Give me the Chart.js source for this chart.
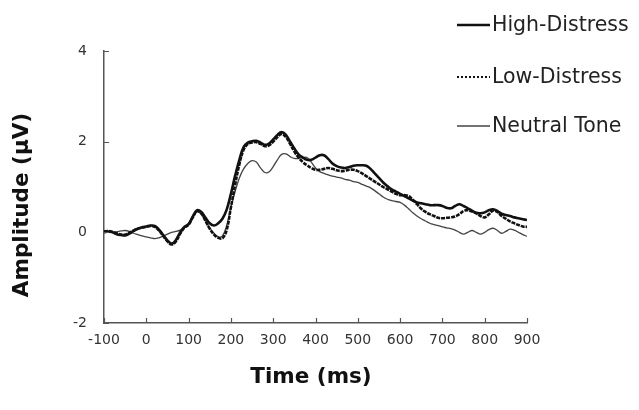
<!DOCTYPE html>
<html>
<head>
<meta charset="utf-8">
<script src="https://cdn.jsdelivr.net/npm/chart.js@4.4.1/dist/chart.umd.min.js"></script>
<style>
  html, body { margin: 0; padding: 0; background: #fff; }
  #wrap { width: 639px; height: 410px; }
</style>
</head>
<body>
<div id="wrap"><canvas id="grafico" width="639" height="410"></canvas></div>
<script>
// time points (ms)
const tempos = [
  -100, -90, -80, -70, -60, -50, -40, -30, -20, -10,
  0, 10, 20, 30, 40, 50, 60, 70, 80, 90,
  100, 110, 120, 130, 140, 150, 160, 170, 180, 190,
  200, 210, 220, 230, 240, 250, 260, 270, 280, 290,
  300, 310, 320, 330, 340, 350, 360, 370, 380, 390,
  400, 410, 420, 430, 440, 450, 460, 470, 480, 490,
  500, 510, 520, 530, 540, 550, 560, 570, 580, 590,
  600, 610, 620, 630, 640, 650, 660, 670, 680, 690,
  700, 710, 720, 730, 740, 750, 760, 770, 780, 790,
  800, 810, 820, 830, 840, 850, 860, 870, 880, 890,
  900
];

const highDistress = [
  0.00, 0.02, 0.00, -0.04, -0.06, -0.07, -0.03, 0.03, 0.08, 0.11,
  0.13, 0.15, 0.14, 0.06, -0.06, -0.18, -0.25, -0.17, 0.00, 0.12,
  0.18, 0.35, 0.49, 0.45, 0.32, 0.20, 0.15, 0.20, 0.30, 0.50,
  0.85, 1.25, 1.60, 1.88, 1.98, 2.01, 2.02, 1.98, 1.93, 1.96,
  2.05, 2.15, 2.21, 2.15, 2.00, 1.85, 1.72, 1.65, 1.60, 1.60,
  1.65, 1.70, 1.70, 1.62, 1.52, 1.46, 1.43, 1.42, 1.44, 1.47,
  1.48, 1.48, 1.47, 1.40, 1.30, 1.20, 1.10, 1.02, 0.95, 0.90,
  0.85, 0.80, 0.75, 0.70, 0.66, 0.64, 0.62, 0.60, 0.60, 0.60,
  0.58, 0.54, 0.53, 0.58, 0.62, 0.58, 0.53, 0.48, 0.43, 0.42,
  0.44, 0.49, 0.51, 0.47, 0.41, 0.38, 0.36, 0.33, 0.31, 0.29,
  0.27
];

const lowDistress = [
  0.02, 0.03, 0.01, -0.02, -0.05, -0.05, -0.01, 0.04, 0.08, 0.10,
  0.12, 0.14, 0.12, 0.04, -0.08, -0.20, -0.27, -0.20, -0.03, 0.10,
  0.17, 0.33, 0.47, 0.42, 0.25, 0.08, -0.05, -0.12, -0.13, 0.05,
  0.55, 1.05, 1.50, 1.82, 1.95, 1.98, 1.99, 1.95, 1.90, 1.92,
  2.00, 2.10, 2.17, 2.10, 1.95, 1.78, 1.65, 1.55, 1.48, 1.42,
  1.38, 1.38, 1.40, 1.42, 1.40, 1.37, 1.35, 1.36, 1.38, 1.38,
  1.35, 1.30, 1.24, 1.18, 1.12, 1.06, 1.00, 0.95, 0.90, 0.85,
  0.82, 0.82, 0.80, 0.72, 0.62, 0.52, 0.45, 0.40, 0.36, 0.32,
  0.31, 0.32, 0.33, 0.35, 0.40, 0.47, 0.49, 0.46, 0.42, 0.36,
  0.33, 0.40, 0.48, 0.45, 0.36, 0.30, 0.24, 0.20, 0.16, 0.13,
  0.12
];

const neutralTone = [
  0.00, 0.00, 0.00, 0.01, 0.03, 0.04, 0.02, -0.02, -0.05, -0.08,
  -0.10, -0.12, -0.14, -0.12, -0.08, -0.04, 0.00, 0.02, 0.05, 0.10,
  0.20, 0.35, 0.45, 0.40, 0.25, 0.10, -0.02, -0.10, -0.08, 0.15,
  0.55, 0.90, 1.20, 1.40, 1.52, 1.58, 1.55, 1.42, 1.32, 1.33,
  1.45, 1.60, 1.72, 1.73, 1.67, 1.63, 1.63, 1.65, 1.65, 1.55,
  1.42, 1.34, 1.30, 1.27, 1.24, 1.22, 1.20, 1.17, 1.15, 1.12,
  1.10, 1.06, 1.02, 0.98, 0.92, 0.85, 0.78, 0.73, 0.70, 0.68,
  0.66, 0.60, 0.52, 0.43, 0.36, 0.30, 0.25, 0.20, 0.17, 0.15,
  0.12, 0.10, 0.08, 0.05, 0.00, -0.04, 0.00, 0.04, 0.00, -0.04,
  0.00, 0.06, 0.09, 0.04, -0.02, 0.02, 0.07, 0.05, 0.00, -0.05,
  -0.09
];

const nomesSeries = ["High-Distress", "Low-Distress", "Neutral Tone"];
const ticksX = [-100, 0, 100, 200, 300, 400, 500, 600, 700, 800, 900];
const ticksY = [-2, 0, 2, 4];

const fonte = "'DejaVu Sans', Verdana, sans-serif";

function pontos(valores) {
  return tempos.map((t, i) => ({ x: t, y: valores[i] }));
}

/* short inward ticks, axis titles and legend */
const extras = {
  id: "extras",
  afterDraw(c) {
    const ctx = c.ctx;
    const x = c.scales.x;
    const y = c.scales.y;
    const area = c.chartArea;
    ctx.save();
    ctx.strokeStyle = "#555";
    ctx.lineWidth = 1.2;
    ctx.beginPath();
    ticksX.forEach(v => {
      const px = Math.round(x.getPixelForValue(v)) + 0.5;
      ctx.moveTo(px, area.bottom);
      ctx.lineTo(px, area.bottom - 5);
    });
    ticksY.forEach(v => {
      const py = Math.round(y.getPixelForValue(v)) + 0.5;
      ctx.moveTo(area.left, py);
      ctx.lineTo(area.left + 5, py);
    });
    ctx.stroke();

    // axis titles
    ctx.fillStyle = "#111";
    ctx.font = "bold 21.5px " + fonte;
    ctx.textAlign = "center";
    ctx.textBaseline = "middle";
    ctx.fillText("Time (ms)", 311, 377);
    ctx.save();
    ctx.translate(22, 205);
    ctx.rotate(-Math.PI / 2);
    ctx.fillText("Amplitude (\u00b5V)", 0, 0);
    ctx.restore();

    // legend
    const linhas = [25, 77, 126];
    ctx.font = "20.5px " + fonte;
    ctx.textAlign = "left";
    ctx.fillStyle = "#222";
    c.data.datasets.forEach((ds, i) => {
      const ly = linhas[i];
      ctx.save();
      ctx.strokeStyle = ds.borderColor;
      ctx.lineWidth = i === 0 ? 2.5 : (i === 1 ? 2 : 1.3);
      ctx.setLineDash(i === 1 ? [2, 2] : []);
      ctx.beginPath();
      ctx.moveTo(457, ly);
      ctx.lineTo(490, ly);
      ctx.stroke();
      ctx.restore();
      ctx.fillText(ds.label, 492, ly + 1);
    });
    ctx.restore();
  }
};

document.addEventListener("DOMContentLoaded", () => {
  const grafico = document.getElementById("grafico");

  new Chart(grafico, {
    type: "line",
    data: {
      datasets: [
        {
          label: nomesSeries[0],
          data: pontos(highDistress),
          borderColor: "#111",
          borderWidth: 2.6,
          pointRadius: 0,
          tension: 0.4
        },
        {
          label: nomesSeries[1],
          data: pontos(lowDistress),
          borderColor: "#111",
          borderWidth: 2.6,
          borderDash: [4, 1],
          pointRadius: 0,
          tension: 0.4
        },
        {
          label: nomesSeries[2],
          data: pontos(neutralTone),
          borderColor: "#444",
          borderWidth: 1.3,
          pointRadius: 0,
          tension: 0.4
        }
      ]
    },
    options: {
      responsive: false,
      animation: false,
      layout: { padding: { top: 51, right: 112, left: 0, bottom: 0 } },
      plugins: { legend: { display: false }, tooltip: { enabled: false } },
      scales: {
        x: {
          type: "linear",
          min: -100,
          max: 900,
          afterFit: s => { s.height = 87; },
          afterBuildTicks: s => { s.ticks = ticksX.map(v => ({ value: v })); },
          grid: { display: false, drawTicks: false },
          border: { display: true, color: "#555", width: 1.5 },
          ticks: { color: "#333", padding: 9, font: { family: fonte, size: 14 } }
        },
        y: {
          min: -2,
          max: 4,
          afterFit: s => { s.width = 104; },
          afterBuildTicks: s => { s.ticks = ticksY.map(v => ({ value: v })); },
          grid: { display: false, drawTicks: false },
          border: { display: true, color: "#555", width: 1.5 },
          ticks: { color: "#333", padding: 17, font: { family: fonte, size: 14 } }
        }
      }
    },
    plugins: [extras]
  });
});
</script>
</body>
</html>
